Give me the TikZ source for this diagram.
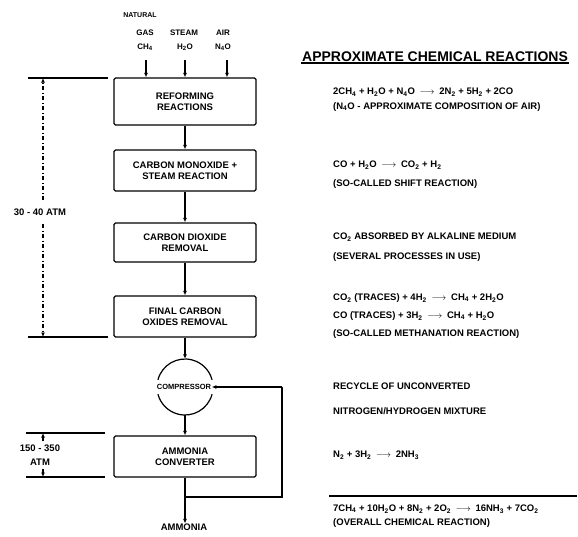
\documentclass[tikz,border=0pt]{standalone}
\usepackage{fontspec}
\setmainfont{Liberation Sans}
\usetikzlibrary{arrows.meta}
\newcommand{\chsub}[1]{\textsubscript{#1}}
\newcommand{\yields}{\enspace$\longrightarrow$\enspace}
\begin{document}
\begin{tikzpicture}[x=1pt,y=-1pt,
  font=\bfseries\fontsize{9.5}{11}\selectfont,
  proc/.style={draw, line width=1.3pt, rounded corners=1.5pt, minimum width=142pt, align=center, inner sep=2pt},
  link/.style={line width=1.2pt, -{Latex[length=4.5pt,width=4pt]}},
  plain/.style={line width=1.2pt},
  rtext/.style={anchor=west, inner sep=0pt},
  lab/.style={inner sep=0pt, align=center},
  small/.style={font=\bfseries\fontsize{8}{10}\selectfont},
  dimdash/.style={dash pattern=on 4pt off 2.5pt on 1pt off 2.5pt}]
\useasboundingbox (0,0) rectangle (578,536);

% process boxes
\node[proc, minimum height=47pt] (reform) at (185,101.5) {REFORMING\\REACTIONS};
\node[proc, minimum height=41pt] (shift) at (185,170.5) {CARBON MONOXIDE +\\STEAM REACTION};
\node[proc, minimum height=39pt] (remove) at (185,242.5) {CARBON DIOXIDE\\REMOVAL};
\node[proc, minimum height=41pt] (final) at (185,316.5) {FINAL CARBON\\OXIDES REMOVAL};
\node[proc, minimum height=41pt] (conv) at (185,456.5) {AMMONIA\\CONVERTER};

% compressor
\node[circle, minimum size=56pt, inner sep=0pt] (compc) at (185,387) {};
\draw[plain] (compc.center) ++(195:28) arc[start angle=195, end angle=345, radius=28];
\draw[plain] (compc.center) ++(15:28) arc[start angle=15, end angle=165, radius=28];
\node[inner sep=0.5pt, fill=white, font=\bfseries\fontsize{7.5}{9}\selectfont] (comp) at (184,387) {COMPRESSOR};

% inputs
\node[lab, font=\bfseries\fontsize{7}{8}\selectfont] (nat) at (140,15) {NATURAL};
\node[lab, small] (gas) at (145,33) {GAS};
\node[lab, small] (ch4) at (145,47) {CH\chsub{4}};
\node[lab, small] (steam) at (184,33) {STEAM};
\node[lab, small] (h2o) at (185,47) {H\chsub{2}O};
\node[lab, small] (air) at (223,33) {AIR};
\node[lab, small] (n4o) at (223,47) {N\chsub{4}O};
\coordinate (i1) at (146,60);
\coordinate (i2) at (185,60);
\coordinate (i3) at (227,60);
\draw[link] (i1) -- (i1 |- reform.north);
\draw[link] (i2) -- (i2 |- reform.north);
\draw[link] (i3) -- (i3 |- reform.north);

% main flow
\draw[link] (reform) -- (shift);
\draw[link] (shift) -- (remove);
\draw[link] (remove) -- (final);
\draw[link] (final) -- (compc);
\draw[link] (compc) -- (conv);

% product and recycle
\node[lab] (amm) at (184,527) {AMMONIA};
\coordinate (j) at (185,497);
\coordinate (r1) at (282,497);
\coordinate (r2) at (282,387);
\draw[link] (conv) -- (amm.north -| conv.south);
\draw[plain] (j) -- (r1) -- (r2);
\draw[link] (r2) -- (comp.east);

% pressure 30-40 atm
\coordinate (t1a) at (28,78);
\coordinate (t1b) at (108,78);
\coordinate (b1a) at (28,337);
\coordinate (b1b) at (108,337);
\draw[plain] (t1a) -- (t1b);
\draw[plain] (b1a) -- (b1b);
\node[lab] (atm1) at (40,212) {30 - 40 ATM};
\coordinate (v1) at (43,78);
\coordinate (v1m) at (43,200);
\coordinate (v2) at (43,337);
\coordinate (v2m) at (43,224);
\draw[link, dimdash] (v1m) -- (v1);
\draw[link, dimdash] (v2m) -- (v2);

% pressure 150-350 atm
\coordinate (t2a) at (26,433);
\coordinate (t2b) at (105,433);
\coordinate (b2a) at (26,477);
\coordinate (b2b) at (105,477);
\draw[plain] (t2a) -- (t2b);
\draw[plain] (b2a) -- (b2b);
\node[lab, font=\bfseries\fontsize{9.5}{14}\selectfont] (atm2) at (40,455) {150 - 350\\ATM};
\coordinate (w1) at (43,441);
\coordinate (w1e) at (43,433);
\coordinate (w2) at (43,469);
\coordinate (w2e) at (43,477);
\draw[link] (w1) -- (w1e);
\draw[link] (w2) -- (w2e);

% reactions
\node[rtext, inner sep=1pt, font=\bfseries\fontsize{14}{16}\selectfont] (title) at (301,57) {APPROXIMATE CHEMICAL REACTIONS};
\draw[line width=1.4pt] (title.south west) -- (title.south east);
\node[rtext] (e1) at (333,92) {2CH\chsub{4} + H\chsub{2}O + N\chsub{4}O\yields 2N\chsub{2} + 5H\chsub{2} + 2CO};
\node[rtext] (e1b) at (333,107) {(N\chsub{4}O - APPROXIMATE COMPOSITION OF AIR)};
\node[rtext] (e2) at (333,165) {CO + H\chsub{2}O\yields CO\chsub{2} + H\chsub{2}};
\node[rtext] (e2b) at (333,184) {(SO-CALLED SHIFT REACTION)};
\node[rtext] (e3) at (333,237) {CO\chsub{2} ABSORBED BY ALKALINE MEDIUM};
\node[rtext] (e3b) at (333,257) {(SEVERAL PROCESSES IN USE)};
\node[rtext] (e4) at (333,298) {CO\chsub{2} (TRACES) + 4H\chsub{2}\yields CH\chsub{4} + 2H\chsub{2}O};
\node[rtext] (e4b) at (333,316) {CO (TRACES) + 3H\chsub{2}\yields CH\chsub{4} + H\chsub{2}O};
\node[rtext] (e4c) at (333,334) {(SO-CALLED METHANATION REACTION)};
\node[rtext] (e5) at (333,386) {RECYCLE OF UNCONVERTED};
\node[rtext] (e5b) at (333,411) {NITROGEN/HYDROGEN MIXTURE};
\node[rtext] (e6) at (333,455) {N\chsub{2} + 3H\chsub{2}\yields 2NH\chsub{3}};
\coordinate (s1) at (329,496);
\coordinate (s2) at (577,496);
\draw[line width=1.3pt] (s1) -- (s2);
\node[rtext] (e7) at (333,509) {7CH\chsub{4} + 10H\chsub{2}O + 8N\chsub{2} + 2O\chsub{2}\yields 16NH\chsub{3} + 7CO\chsub{2}};
\node[rtext] (e7b) at (333,523) {(OVERALL CHEMICAL REACTION)};
\end{tikzpicture}
\end{document}
